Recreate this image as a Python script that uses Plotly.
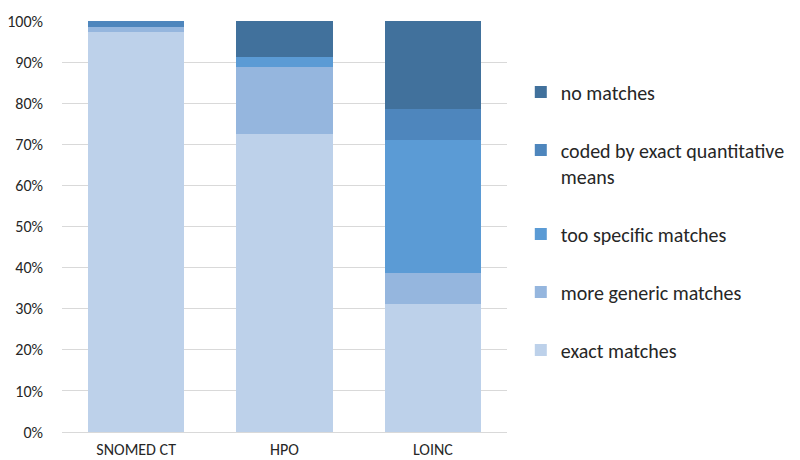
import plotly.graph_objects as go

categories = ["SNOMED CT", "HPO", "LOINC"]
series_names = ["exact matches", "more generic matches", "too specific matches",
                "coded by exact quantitative<br>means", "no matches"]
exact = [97.4, 72.4, 31.1]
generic = [1.2, 16.3, 7.5]
too_specific = [0.0, 2.5, 32.5]
coded = [1.4, 0.0, 7.5]
no_match = [0.0, 8.8, 21.4]
colors = ["#bdd1ea", "#95b6de", "#5b9bd5", "#4e86bd", "#41719c"]

values = [exact, generic, too_specific, coded, no_match]

fig = go.Figure()
for i, (name, vals, col) in enumerate(zip(series_names, values, colors)):
    fig.add_trace(go.Bar(x=categories, y=vals, name=name, marker_color=col,
                         marker_line_width=0, legendgroup=str(i),
                         legendrank=100 - i))

font = "Carlito, Lato, 'Liberation Sans', sans-serif"
fig.update_layout(
    template="none",
    barmode="stack",
    bargap=0.35,
    width=792, height=452,
    margin=dict(l=54, r=293, t=13, b=28, autoexpand=False),
    plot_bgcolor="white", paper_bgcolor="white",
    font=dict(family=font, size=16, color="#262626"),
    legend=dict(x=1.031, y=0.875, xanchor="left", yanchor="top",
                traceorder="grouped", tracegroupgap=29,
                valign="top",
                font=dict(size=20, color="#262626")),
    yaxis=dict(range=[0, 100], dtick=10, ticksuffix="%", showgrid=True,
               gridcolor="#d9d9d9", gridwidth=1, zeroline=False,
               showline=False, ticks="", automargin=False,
               ticklabelstandoff=18, ticklabeloverflow="allow",
               tickfont=dict(size=16, color="#262626")),
    xaxis=dict(showline=True, linecolor="#d9d9d9", linewidth=1,
               ticks="", automargin=False, showgrid=False,
               ticklabelstandoff=3,
               tickfont=dict(size=16, color="#262626")),
)

fig.write_html("out.html")
